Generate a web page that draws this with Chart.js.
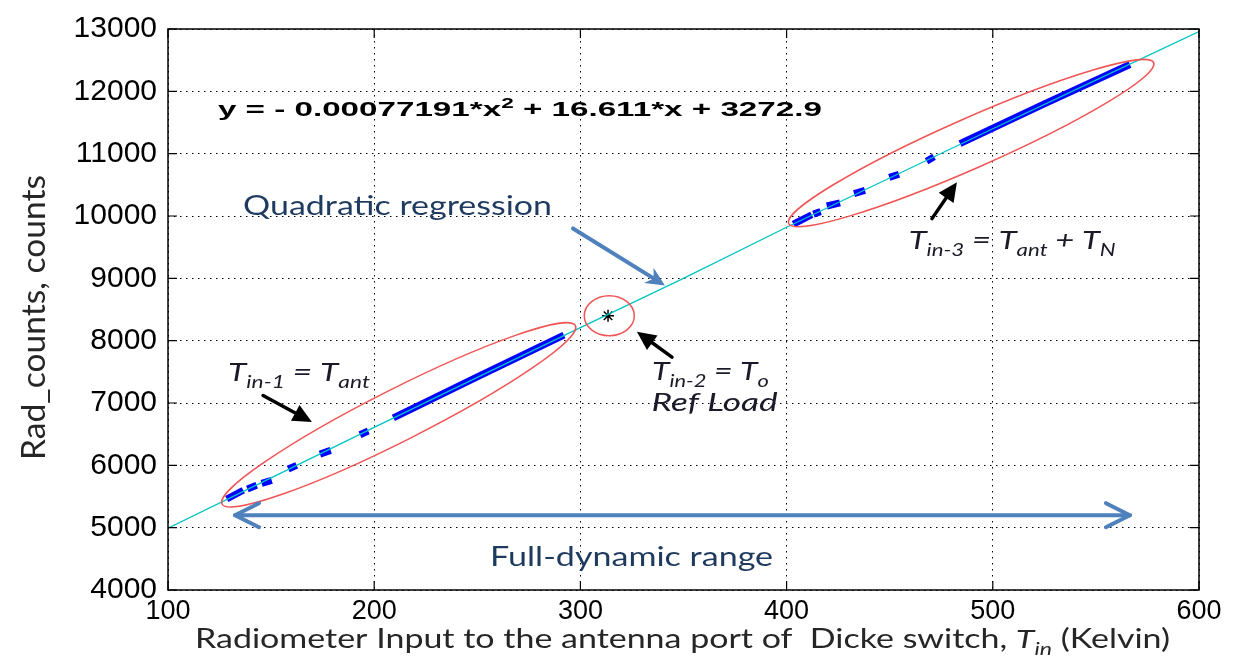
<!DOCTYPE html>
<html>
<head>
<meta charset="utf-8">
<script src="https://cdn.jsdelivr.net/npm/chart.js@4.4.0/dist/chart.umd.min.js"></script>
<style>
html, body { margin: 0; background: #fff; }
#wrap { width: 1243px; height: 663px; }
</style>
</head>
<body>
<div id="wrap"><canvas id="chart"></canvas></div>
<script>
// regression curve
const fitX = [100, 150, 200, 250, 300, 350, 400, 450, 500, 550, 600]
const fitY = [4990, 5800, 6610, 7410, 8210, 9000, 9820, 10610, 11400, 12180, 12960]

// measured counts, null = gap between runs
const antX = [128.5, 136.5, null, 138.5, 143, null, 145.4, 150.3, null, 158.3, 162.4, null, 173.7, 178.9, null, 193.1, 197.1, null, 209.3, 250, 292]
const antY = [5460, 5600, null, 5620, 5680, null, 5710, 5760, null, 5940, 6000, null, 6180, 6240, null, 6490, 6550, null, 6760, 7420, 8090]
const noiseX = [403.3, 412.2, null, 413, 416.5, null, 419.5, 425.9, null, 432.7, 438, null, 449.8, 454.5, null, 467.9, 471.5, null, 484.1, 525, 566.5]
const noiseY = [9870, 10020, null, 10030, 10070, null, 10160, 10210, null, 10360, 10410, null, 10620, 10670, null, 10880, 10950, null, 11160, 11800, 12430]

const refX = [313.4]
const refY = [8400]

const xTicks = [100, 200, 300, 400, 500, 600]
const yTicks = [4000, 5000, 6000, 7000, 8000, 9000, 10000, 11000, 12000, 13000]

const toPoints = (xs, ys) => xs.map((x, i) => ({ x: x === null ? xs[i - 1] : x, y: ys[i] }))

const blue = '#0000ff'
const red = '#f05555'
const navy = '#1f3a5f'
const steel = '#4f81bd'

// annotation shapes, in data units
const ellipses = [
    { x1: 126.2, y1: 5380, x2: 297.6, y2: 8240, b: 26 },
    { x1: 401, y1: 9880, x2: 578, y2: 12460, b: 25 }
]
const refCircle = { x: 314, y: 8400, rx: 25, ry: 20 }

const arrows = [
    { x0: 296.4, y0: 9800, x1: 341, y1: 8886, color: steel, w: 4, head: 'stealth', double: false },
    { x0: 132.5, y0: 5200, x1: 566.5, y1: 5200, color: steel, w: 4, head: 'open', double: true },
    { x0: 146.1, y0: 7120, x1: 169.8, y1: 6695, color: '#000', w: 3.5, head: 'filled', double: false },
    { x0: 344.4, y0: 7735, x1: 327.4, y1: 8145, color: '#000', w: 3.5, head: 'filled', double: false },
    { x0: 470.5, y0: 9958, x1: 482.6, y1: 10541, color: '#000', w: 3.5, head: 'filled', double: false }
]

const labels = [
    { x: 124.2, y: 11597, width: 604, color: '#000', font: 'bold 21px "Liberation Sans", Arial, sans-serif',
      parts: [{ t: 'y = - 0.00077191*x' }, { t: '2', sup: true }, { t: ' + 16.611*x + 3272.9' }] },
    { x: 136.4, y: 10021, width: 309, color: navy, font: '27px Lato, sans-serif',
      parts: [{ t: 'Quadratic regression' }] },
    { x: 256.2, y: 4378, width: 283, color: navy, font: '27px Lato, sans-serif',
      parts: [{ t: 'Full-dynamic range' }] },
    { x: 129.1, y: 7360, width: 142, color: '#1a1a28', font: 'italic 25px Lato, sans-serif',
      parts: [{ t: 'T' }, { t: 'in-1', sub: true }, { t: ' = T' }, { t: 'ant', sub: true }] },
    { x: 334.7, y: 7362, width: 117, color: '#1a1a28', font: 'italic 25px Lato, sans-serif',
      parts: [{ t: 'T' }, { t: 'in-2', sub: true }, { t: ' = T' }, { t: 'o', sub: true }] },
    { x: 334.5, y: 6868, width: 126, color: '#1a1a28', font: 'italic 25px Lato, sans-serif',
      parts: [{ t: 'Ref Load' }] },
    { x: 459.2, y: 9464, width: 207, color: '#1a1a28', font: 'italic 25px Lato, sans-serif',
      parts: [{ t: 'T' }, { t: 'in-3', sub: true }, { t: ' = T' }, { t: 'ant', sub: true }, { t: ' + T' }, { t: 'N', sub: true }] }
]

const fontSize = (font) => parseFloat(font.match(/(\d+(\.\d+)?)px/)[1])

const partFont = (font, p) => {
    let f = font
    if (p.it && !f.startsWith('italic')) f = 'italic ' + f
    if (!p.sub && !p.sup) return f
    const size = fontSize(font)
    return f.replace(/(\d+(\.\d+)?)px/, (size * 0.68).toFixed(1) + 'px')
}

const drawRich = (ctx, parts, x, y, font, color, width) => {
    const size = fontSize(font)
    let total = 0
    parts.forEach(p => { ctx.font = partFont(font, p); total += ctx.measureText(p.t).width })
    const sx = width ? width / total : 1
    ctx.save()
    ctx.translate(x, y)
    ctx.scale(sx, 1)
    ctx.fillStyle = color
    ctx.textAlign = 'left'
    ctx.textBaseline = 'alphabetic'
    let cx = 0
    parts.forEach(p => {
        ctx.font = partFont(font, p)
        const dy = p.sub ? size * 0.28 : p.sup ? -size * 0.42 : 0
        ctx.fillText(p.t, cx, dy)
        cx += ctx.measureText(p.t).width
    })
    ctx.restore()
}

const drawHead = (ctx, x, y, ang, style, w) => {
    const len = style === 'open' ? 24 : 19
    const half = style === 'open' ? 12 : 9
    const ax = x - len * Math.cos(ang), ay = y - len * Math.sin(ang)
    const px = -Math.sin(ang) * half, py = Math.cos(ang) * half
    ctx.beginPath()
    if (style === 'open') {
        ctx.moveTo(ax + px, ay + py)
        ctx.lineTo(x, y)
        ctx.lineTo(ax - px, ay - py)
        ctx.stroke()
    } else {
        const bx = x - len * 0.7 * Math.cos(ang), by = y - len * 0.7 * Math.sin(ang)
        ctx.moveTo(x, y)
        ctx.lineTo(ax + px, ay + py)
        ctx.lineTo(style === 'stealth' ? bx : ax, style === 'stealth' ? by : ay)
        ctx.lineTo(ax - px, ay - py)
        ctx.closePath()
        ctx.fill()
    }
}

const annotations = {
    id: 'annotations',
    afterDatasetsDraw(chart) {
        const { ctx, chartArea: a, scales: { x, y } } = chart
        const X = v => x.getPixelForValue(v)
        const Y = v => y.getPixelForValue(v)

        ctx.save()
        // axes box and inward ticks
        ctx.strokeStyle = '#000'
        ctx.lineWidth = 1.5
        ctx.strokeRect(a.left, a.top, a.right - a.left, a.bottom - a.top)
        ctx.lineWidth = 1.2
        ctx.beginPath()
        xTicks.forEach(t => {
            ctx.moveTo(X(t), a.bottom); ctx.lineTo(X(t), a.bottom - 9)
            ctx.moveTo(X(t), a.top); ctx.lineTo(X(t), a.top + 9)
        })
        yTicks.forEach(t => {
            ctx.moveTo(a.left, Y(t)); ctx.lineTo(a.left + 9, Y(t))
            ctx.moveTo(a.right, Y(t)); ctx.lineTo(a.right - 9, Y(t))
        })
        ctx.stroke()

        // red ellipses
        ctx.strokeStyle = red
        ctx.lineWidth = 1.5
        ellipses.forEach(e => {
            const x1 = X(e.x1), y1 = Y(e.y1), x2 = X(e.x2), y2 = Y(e.y2)
            const ang = Math.atan2(y2 - y1, x2 - x1)
            const len = Math.hypot(x2 - x1, y2 - y1) / 2
            ctx.beginPath()
            ctx.ellipse((x1 + x2) / 2, (y1 + y2) / 2, len, e.b, ang, 0, Math.PI * 2)
            ctx.stroke()
        })
        ctx.beginPath()
        ctx.ellipse(X(refCircle.x), Y(refCircle.y), refCircle.rx, refCircle.ry, 0, 0, Math.PI * 2)
        ctx.stroke()

        // arrows
        arrows.forEach(ar => {
            const x0 = X(ar.x0), y0 = Y(ar.y0), x1 = X(ar.x1), y1 = Y(ar.y1)
            const ang = Math.atan2(y1 - y0, x1 - x0)
            ctx.strokeStyle = ar.color
            ctx.fillStyle = ar.color
            ctx.lineWidth = ar.w
            ctx.lineCap = 'round'
            ctx.lineJoin = 'round'
            const inset = ar.head === 'open' ? 0 : 10
            ctx.beginPath()
            ctx.moveTo(x0 + (ar.double ? inset * Math.cos(ang) : 0), y0 + (ar.double ? inset * Math.sin(ang) : 0))
            ctx.lineTo(x1 - inset * Math.cos(ang), y1 - inset * Math.sin(ang))
            ctx.stroke()
            drawHead(ctx, x1, y1, ang, ar.head, ar.w)
            if (ar.double) drawHead(ctx, x0, y0, ang + Math.PI, ar.head, ar.w)
        })

        // text annotations
        labels.forEach(l => drawRich(ctx, l.parts, X(l.x), Y(l.y), l.font, l.color, l.width))
        ctx.restore()
    },
    afterDraw(chart) {
        const { ctx } = chart
        drawRich(ctx, [{ t: 'Radiometer Input to the antenna port of  Dicke switch, ' }, { t: 'T', it: true }, { t: 'in', sub: true, it: true }, { t: ' (Kelvin)' }],
            195, 648, '26px Lato, sans-serif', '#262626', 975)
        ctx.save()
        ctx.translate(45, 460)
        ctx.rotate(-Math.PI / 2)
        drawRich(ctx, [{ t: 'Rad_counts, counts' }], 0, 0, '32px Lato, sans-serif', '#262626', 285)
        ctx.restore()
    }
}

const ctx = document.getElementById('chart').getContext('2d')

const chart = new Chart(ctx, {
    type: 'line',
    data: {
        datasets: [
            {
                label: 'Quadratic regression',
                data: toPoints(fitX, fitY),
                borderColor: '#00c4c4',
                borderWidth: 1.3,
                pointRadius: 0
            },
            {
                label: 'Tref',
                data: toPoints(refX, refY),
                showLine: false,
                pointStyle: 'star',
                pointRadius: 6,
                borderColor: '#000',
                borderWidth: 1.5
            },
            {
                label: 'Tin-1',
                data: toPoints(antX, antY),
                borderColor: blue,
                borderWidth: 7,
                borderCapStyle: 'butt',
                pointRadius: 0,
                spanGaps: false
            },
            {
                label: 'Tin-3',
                data: toPoints(noiseX, noiseY),
                borderColor: blue,
                borderWidth: 7,
                borderCapStyle: 'butt',
                pointRadius: 0,
                spanGaps: false
            }
        ]
    },
    options: {
        responsive: true,
        maintainAspectRatio: false,
        animation: false,
        layout: { padding: { top: 19, right: 44, bottom: 0, left: 0 } },
        plugins: { legend: { display: false }, tooltip: { enabled: false } },
        scales: {
            x: {
                type: 'linear',
                min: 100,
                max: 600,
                afterFit: s => { s.height = 73 },
                afterBuildTicks: s => { s.ticks = xTicks.map(v => ({ value: v })) },
                ticks: {
                    padding: 5,
                    color: '#000',
                    callback: v => String(v),
                    font: { family: '"Liberation Sans Narrow", "Liberation Sans", Arial, sans-serif', size: 27 }
                },
                grid: { color: '#000', lineWidth: 1, drawTicks: false },
                border: { display: false, dash: [1.5, 4.5] }
            },
            y: {
                type: 'linear',
                min: 4000,
                max: 13000,
                afterFit: s => { s.width = 168 },
                afterBuildTicks: s => { s.ticks = yTicks.map(v => ({ value: v })) },
                ticks: {
                    padding: 11,
                    color: '#000',
                    callback: v => String(v),
                    font: { family: '"Liberation Sans", Arial, sans-serif', size: 30 }
                },
                grid: { color: '#000', lineWidth: 1, drawTicks: false },
                border: { display: false, dash: [1.5, 4.5] }
            }
        }
    },
    plugins: [annotations]
})
</script>
</body>
</html>
